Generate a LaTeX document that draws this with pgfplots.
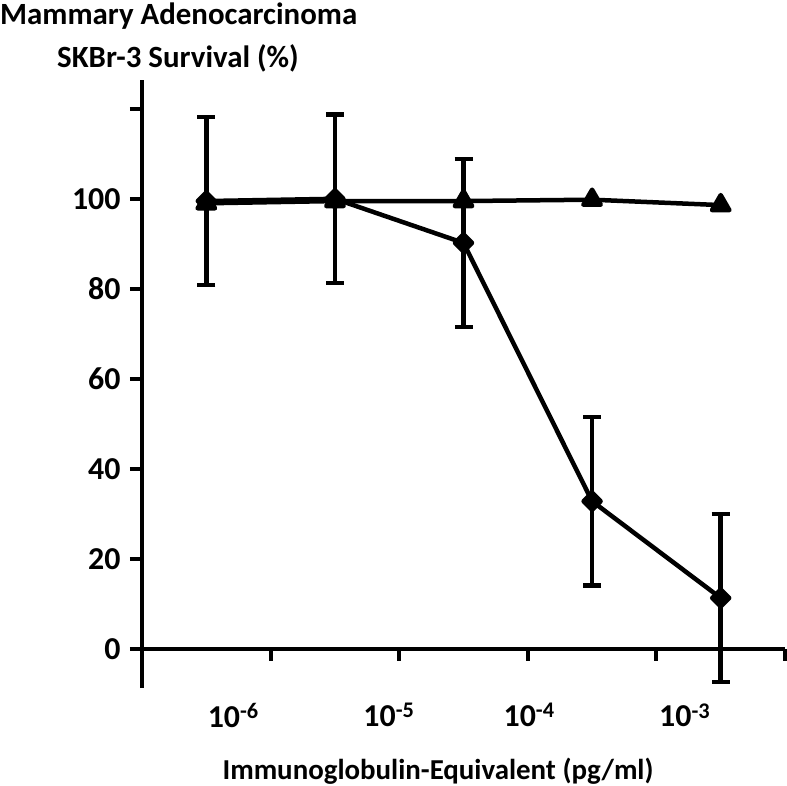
\documentclass[border=0pt]{standalone}
\usepackage{fontspec}
\setmainfont{Carlito}
\usepackage{pgfplots}
\pgfplotsset{compat=1.18}
\newcommand{\fz}{\fontsize{32}{32}\selectfont\bfseries}
\begin{document}
\begin{tikzpicture}
\begin{axis}[
  name=ax,
  scale only axis,
  width=643bp, height=608bp,
  xmin=-0.5, xmax=4.5,
  ymin=-8.7, ymax=126.4,
  axis x line=middle, axis y line=left,
  axis line style={line width=4bp,-},
  tick align=outside,
  major tick length=12bp,
  xtick={0.5,1.5,2.5,3.5,4.5}, xticklabels={},
  tick style={line width=4bp, black},
  ytick={0,20,40,60,80,100,120}, yticklabels={0,20,40,60,80,100,},
  yticklabel style={font=\fz, xshift=-6bp},
  extra x ticks={0.21,1.42,2.51,3.72},
  extra x tick labels={10\textsuperscript{-6},10\textsuperscript{-5},10\textsuperscript{-4},10\textsuperscript{-3}},
  extra x tick style={major tick length=0pt, xticklabel style={font=\fz, anchor=north, yshift=-51bp}},
  clip=false,
]
\addplot[line width=4.5bp, black, line join=round,
  mark=square*, mark size=6bp, mark options={rotate=45, solid, fill=black},
  error bars/.cd, y dir=both, y explicit,
  error bar style={line width=4.5bp, black},
  error mark options={rotate=90, line width=4.5bp, black, mark size=9bp}]
coordinates {
 (0,99.5) +- (0,18.7)
 (1,100.0) +- (0,18.7)
 (2,90.2) +- (0,18.7)
 (3,32.8) +- (0,18.7)
 (4,11.3) +- (0,18.7)
};
\addplot[line width=4.5bp, black, line join=round,
  mark=triangle*, mark size=10bp, mark options={solid, fill=black, line join=round}]
coordinates {
 (0,99.0)
 (1,99.5)
 (2,99.5)
 (3,99.8)
 (4,98.6)
};
\end{axis}
\node[anchor=base west, font=\fontsize{31}{31}\selectfont\bfseries, inner sep=0pt] at ([xshift=-142bp,yshift=55bp]ax.north west) {Mammary Adenocarcinoma};
\node[anchor=base west, font=\fontsize{31}{31}\selectfont\bfseries, inner sep=0pt] at ([xshift=-85bp,yshift=12bp]ax.north west) {SKBr-3 Survival (\%)};
\node[anchor=base, font=\fontsize{29}{29}\selectfont\bfseries, inner sep=0pt] at ([xshift=296bp,yshift=-91bp]ax.south west) {Immunoglobulin-Equivalent (pg/ml)};
\pgfresetboundingbox
\path[use as bounding box] ([xshift=-142bp,yshift=-98bp]ax.south west) rectangle ([xshift=2bp,yshift=80bp]ax.north east);
\end{tikzpicture}
\end{document}
